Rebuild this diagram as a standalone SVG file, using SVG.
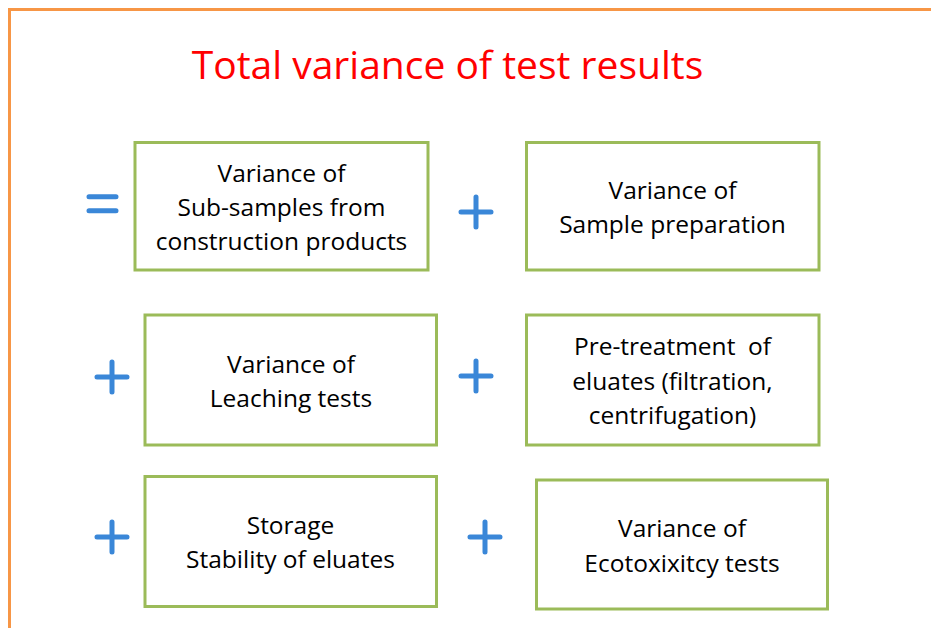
<svg xmlns="http://www.w3.org/2000/svg" width="931" height="628" viewBox="0 0 931 628">
<style>
.frame{fill:none;stroke:#F79646;stroke-width:3}
.box{fill:#FFFFFF;stroke:#9BBB59;stroke-width:3}
.t{font-family:"Open Sans","Liberation Sans",Arial,sans-serif;font-size:24.5px;fill:#000;text-anchor:middle}
.title{font-family:"Open Sans","Liberation Sans",Arial,sans-serif;font-size:39px;fill:#FF0000;text-anchor:middle}
.op{stroke:#3A87D8;stroke-width:5;stroke-linecap:round;fill:none}
</style>
<rect width="931" height="628" fill="#FFFFFF"/>
<path class="frame" d="M9.5 628 V9.5 H931"/>
<text class="title" x="447.5" y="79">Total variance of test results</text>
<g id="operators">
<path class="op" d="M89 196.7 H116 M89 210.7 H116"/>
<path class="op" d="M461 212 H491 M476 197 V227"/>
<path class="op" d="M97 377 H127 M112 362 V392"/>
<path class="op" d="M461 376 H491 M476 361 V391"/>
<path class="op" d="M97 537 H127 M112 522 V552"/>
<path class="op" d="M470 537 H500 M485 522 V552"/>
</g>
<g id="node-subsamples">
<rect class="box" x="135" y="142.5" width="293" height="127.5"/>
<text class="t" x="281.5" y="182">Variance of</text>
<text class="t" x="281.5" y="216">Sub-samples from</text>
<text class="t" x="281.5" y="250">construction products</text>
</g>
<g id="node-sample-prep">
<rect class="box" x="526.5" y="142.5" width="292.5" height="127.5"/>
<text class="t" x="672.5" y="199">Variance of</text>
<text class="t" x="672.5" y="233">Sample preparation</text>
</g>
<g id="node-leaching">
<rect class="box" x="145" y="315" width="291.5" height="130"/>
<text class="t" x="291" y="373">Variance of</text>
<text class="t" x="291" y="407">Leaching tests</text>
</g>
<g id="node-pretreatment">
<rect class="box" x="526.5" y="315" width="292.5" height="130"/>
<text class="t" x="672.5" y="355" xml:space="preserve">Pre-treatment  of</text>
<text class="t" x="672.5" y="390">eluates (filtration,</text>
<text class="t" x="672.5" y="424">centrifugation)</text>
</g>
<g id="node-storage">
<rect class="box" x="145" y="476.5" width="291.5" height="130"/>
<text class="t" x="290.5" y="534">Storage</text>
<text class="t" x="290.5" y="568">Stability of eluates</text>
</g>
<g id="node-ecotox">
<rect class="box" x="536.5" y="480" width="291" height="129"/>
<text class="t" x="682" y="537">Variance of</text>
<text class="t" x="682" y="572">Ecotoxixitcy tests</text>
</g>
<g id="connectors"></g>
</svg>
